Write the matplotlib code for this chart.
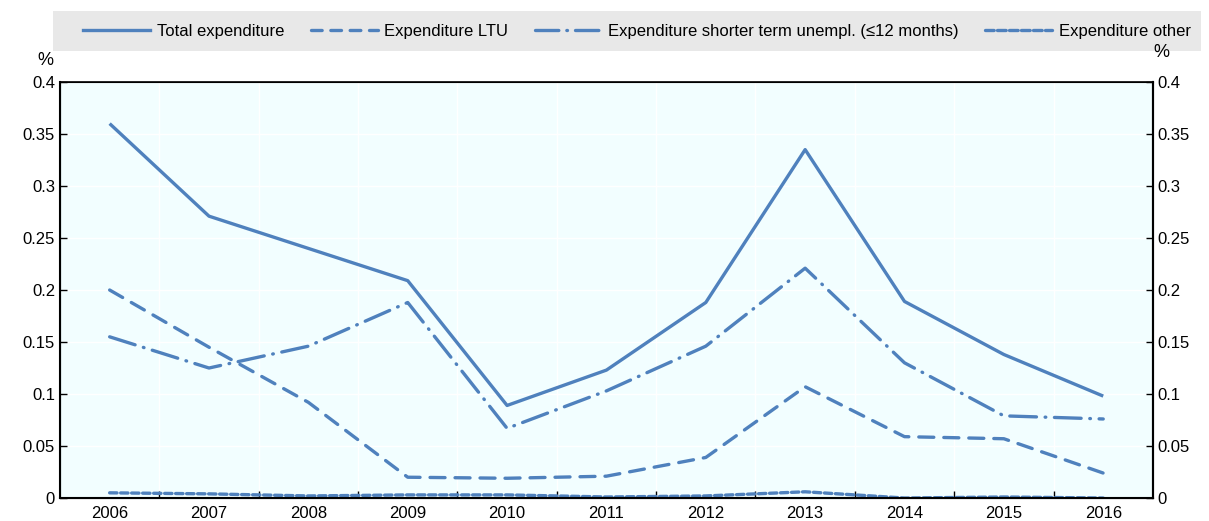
import matplotlib.pyplot as plt
from matplotlib.patches import Rectangle
from matplotlib.lines import Line2D

plt.rcParams['font.family'] = ['Liberation Sans Narrow', 'Liberation Sans', 'DejaVu Sans']
plt.rcParams['font.size'] = 12

years = ['2006', '2007', '2008', '2009', '2010', '2011', '2012', '2013', '2014', '2015', '2016']
total = [0.360, 0.271, 0.240, 0.209, 0.089, 0.123, 0.188, 0.335, 0.189, 0.138, 0.098]
ltu = [0.200, 0.145, 0.092, 0.020, 0.019, 0.021, 0.039, 0.107, 0.059, 0.057, 0.024]
shorter = [0.155, 0.125, 0.146, 0.188, 0.067, 0.103, 0.146, 0.221, 0.130, 0.079, 0.076]
other = [0.005, 0.004, 0.002, 0.003, 0.003, 0.001, 0.002, 0.006, 0.000, 0.001, 0.000]

blue = '#4f81bd'
lw = 2.4
x = list(range(len(years)))

fig = plt.figure(figsize=(12.09, 5.21), dpi=100)
ax = fig.add_axes([0.0496, 0.0441, 0.904, 0.7985])
ax.set_facecolor('#f2feff')

ax.plot(x, total, color=blue, lw=lw, solid_capstyle='butt')
ax.plot(x, ltu, color=blue, lw=lw, dashes=(4.5, 3.0), dash_capstyle='round')
ax.plot(x, shorter, color=blue, lw=lw, dashes=(8, 2.6, 0.2, 2.6), dash_capstyle='round')
ax.plot(x, other, color=blue, lw=lw, dashes=(2.2, 1.1), dash_capstyle='round')

ax.set_xlim(-0.5, 10.5)
ax.set_ylim(0, 0.4)
ax.set_xticks(x)
ax.set_xticklabels(years)
ax.set_xticks([i + 0.5 for i in x[:-1]], minor=True)
ax.tick_params(axis='x', which='major', length=0, pad=6)
ax.tick_params(axis='x', which='minor', direction='in', length=5, width=1)
ax.set_yticks([0, 0.05, 0.1, 0.15, 0.2, 0.25, 0.3, 0.35, 0.4])
ax.set_yticklabels(['0', '0.05', '0.1', '0.15', '0.2', '0.25', '0.3', '0.35', '0.4'])
ax.tick_params(axis='y', direction='in', length=5, width=1)
ax.grid(True, axis='y', color='white', lw=1)
ax.grid(True, axis='x', which='minor', color='white', lw=1)
ax.set_axisbelow(True)
for side in ['left', 'bottom', 'right']:
    ax.spines[side].set_linewidth(1.5)
ax.spines['top'].set_linewidth(1.2)

ax2 = ax.twinx()
ax2.set_ylim(0, 0.4)
ax2.set_yticks([0, 0.05, 0.1, 0.15, 0.2, 0.25, 0.3, 0.35, 0.4])
ax2.set_yticklabels(['0', '0.05', '0.1', '0.15', '0.2', '0.25', '0.3', '0.35', '0.4'])
ax2.tick_params(axis='y', direction='in', length=5, width=1)
ax2.spines['right'].set_linewidth(1.5)

fig.text(0.031, 0.868, '%', ha='left', va='bottom', fontsize=13)
fig.text(0.954, 0.883, '%', ha='left', va='bottom', fontsize=13)

# legend band
fig.patches.append(Rectangle((0.044, 0.902), 0.949, 0.077, transform=fig.transFigure,
                             facecolor='#e8e8e8', edgecolor='none', zorder=0))
handles = [
    Line2D([], [], color=blue, lw=lw),
    Line2D([], [], color=blue, lw=lw, dashes=(3.2, 2.6), dash_capstyle='round'),
    Line2D([], [], color=blue, lw=lw, dashes=(7, 2.4, 0.2, 2.4), dash_capstyle='round'),
    Line2D([], [], color=blue, lw=lw, dashes=(2.6, 1.0), dash_capstyle='round'),
]
labels = ['Total expenditure', 'Expenditure LTU',
          'Expenditure shorter term unempl. (\u226412 months)', 'Expenditure other']
fig.legend(handles, labels, loc='center', bbox_to_anchor=(0.527, 0.94), ncol=4,
           frameon=False, handlelength=4.0, handletextpad=0.4, columnspacing=1.6,
           fontsize=12)

fig.savefig('out.png', dpi=100)
